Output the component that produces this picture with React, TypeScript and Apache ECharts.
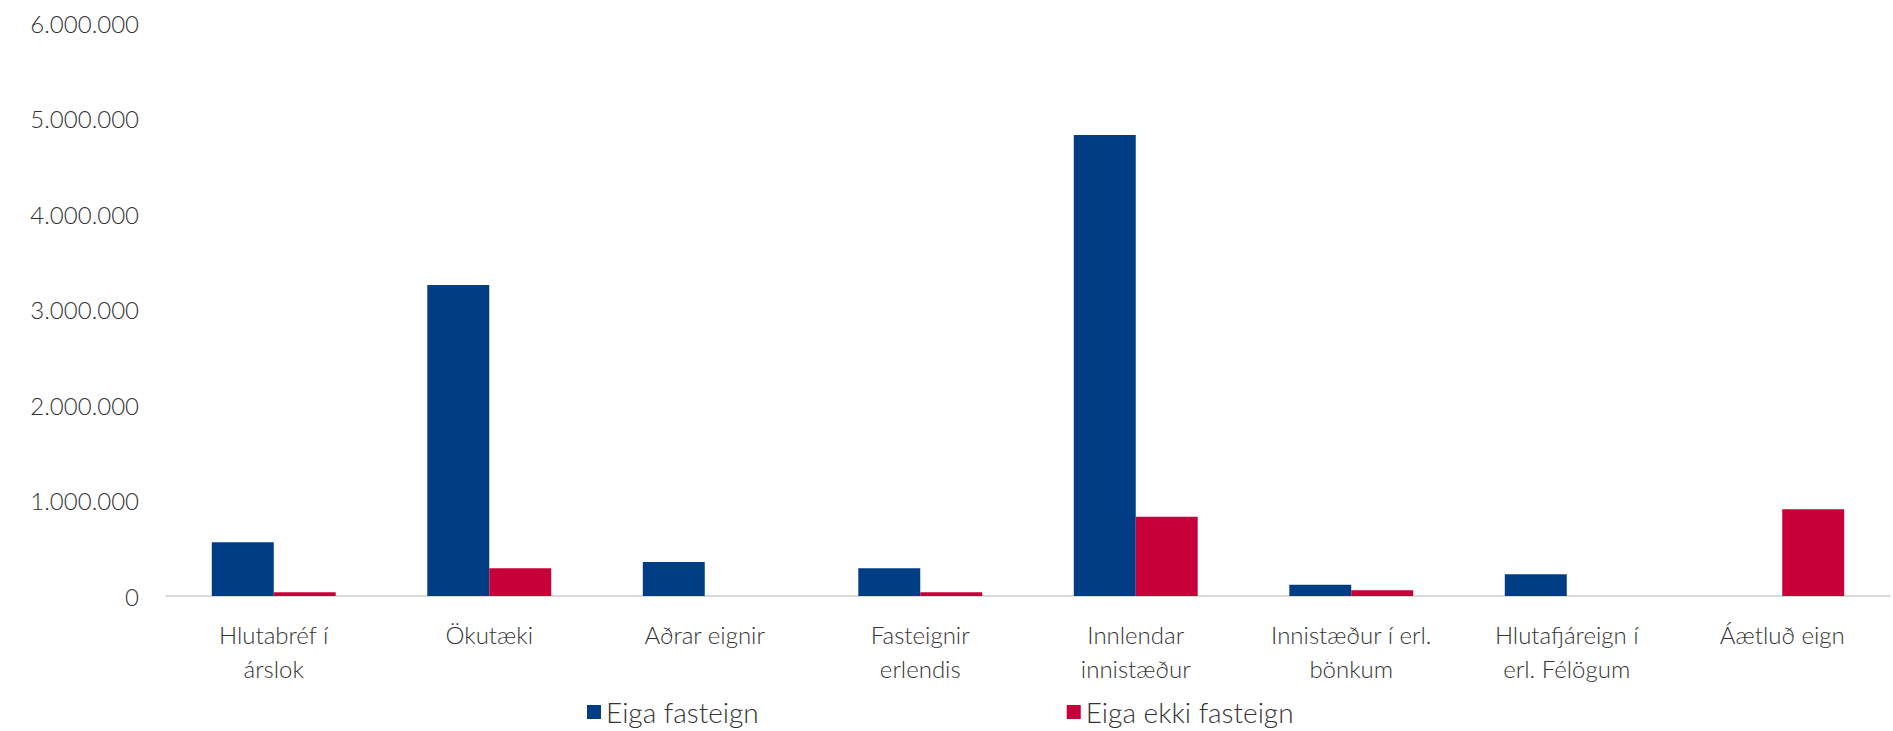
import React, { useEffect, useRef } from "react";
import * as echarts from "echarts";

// Asset categories (line breaks as they are wrapped under the axis)
const categories = [
  "Hlutabréf í\nárslok",
  "Ökutæki",
  "Aðrar eignir",
  "Fasteignir\nerlendis",
  "Innlendar\ninnistæður",
  "Innistæður í erl.\nbönkum",
  "Hlutafjáreign í\nerl. Félögum",
  "Áætluð eign",
];

const seriesNames = ["Eiga fasteign", "Eiga ekki fasteign"];

// Average amounts (ISK) for owners and non-owners of real estate
const eigaFasteign = [562000, 3257000, 356000, 290000, 4827000, 118000, 227000, 0];
const eigaEkkiFasteign = [39000, 290000, 0, 39000, 830000, 60000, 0, 908000];

const yTicks = [0, 1000000, 2000000, 3000000, 4000000, 5000000, 6000000];

const BLUE = "#003D85";
const RED = "#C8003A";
const TEXT = "#333333";
const FONT = "Lato, 'Noto Sans', sans-serif";

const formatIs = (v: number) =>
  String(Math.round(v)).replace(/\B(?=(\d{3})+(?!\d))/g, ".");

export default function App() {
  const ref = useRef<HTMLDivElement>(null);

  useEffect(() => {
    document.body.style.margin = "0";
    if (!ref.current) return;
    const chart = echarts.init(ref.current, undefined, { renderer: "svg" });
    chart.setOption({
      animation: false,
      backgroundColor: "#ffffff",
      textStyle: { fontFamily: FONT },
      grid: { left: 166, right: 3, top: 23, bottom: 135, containLabel: false },
      legend: {
        left: 587,
        top: 697,
        padding: 0,
        itemGap: 308,
        itemWidth: 14,
        itemHeight: 14,
        icon: "rect",
        textStyle: {
          fontFamily: FONT,
          fontSize: 28,
          fontWeight: 300,
          lineHeight: 30,
          color: TEXT,
        },
        data: seriesNames,
      },
      xAxis: {
        type: "category",
        data: categories,
        axisLine: { show: true, lineStyle: { color: "#D9D9D9", width: 2 } },
        axisTick: { show: false },
        axisLabel: {
          interval: 0,
          margin: 21,
          fontFamily: FONT,
          fontSize: 24,
          fontWeight: 300,
          lineHeight: 34,
          color: TEXT,
          align: "center",
        },
      },
      yAxis: {
        type: "value",
        min: yTicks[0],
        max: yTicks[yTicks.length - 1],
        interval: yTicks[1] - yTicks[0],
        splitLine: { show: false },
        axisLine: { show: false },
        axisTick: { show: false },
        axisLabel: {
          margin: 27,
          fontFamily: FONT,
          fontSize: 24,
          fontWeight: 300,
          color: TEXT,
          formatter: (v: number) => formatIs(v),
        },
      },
      series: [
        {
          name: seriesNames[0],
          type: "bar",
          data: eigaFasteign,
          itemStyle: { color: BLUE },
          barGap: "0%",
          barCategoryGap: "42.5%",
        },
        {
          name: seriesNames[1],
          type: "bar",
          data: eigaEkkiFasteign,
          itemStyle: { color: RED },
          barGap: "0%",
          barCategoryGap: "42.5%",
        },
      ],
    });
    return () => chart.dispose();
  }, []);

  return <div ref={ref} style={{ width: 1893, height: 731 }} />;
}
